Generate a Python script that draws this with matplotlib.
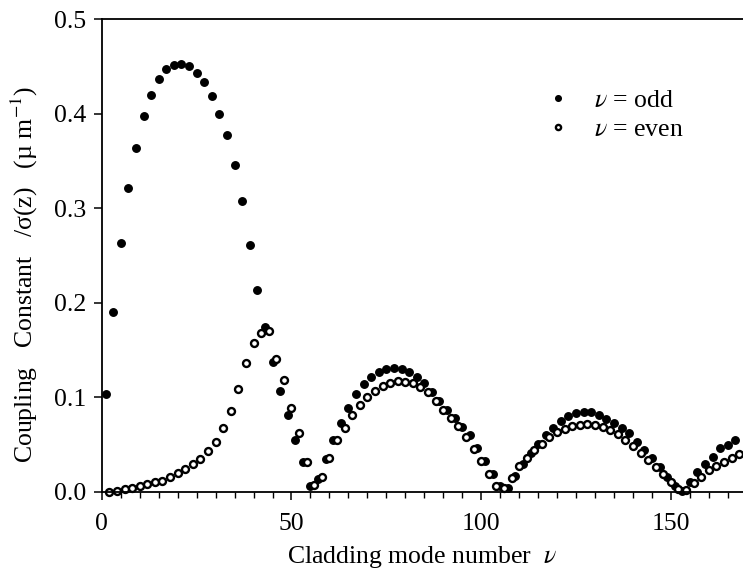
import numpy as np
import matplotlib
matplotlib.use('Agg')
import matplotlib.pyplot as plt
from matplotlib.ticker import MultipleLocator

plt.rcParams['font.family'] = ['Liberation Serif', 'DejaVu Serif']
plt.rcParams['mathtext.fontset'] = 'stix'

# coupling constant for odd cladding modes (nu = 1, 3, ..., 167)
nu_odd = np.arange(1, 168, 2)
k_odd = [0.103, 0.190, 0.263, 0.321, 0.364, 0.397, 0.420, 0.437, 0.447, 0.451,
         0.453, 0.450, 0.443, 0.433, 0.419, 0.400, 0.377, 0.346, 0.308, 0.261,
         0.214, 0.174, 0.137, 0.107, 0.081, 0.055, 0.032, 0.006, 0.014, 0.035,
         0.055, 0.073, 0.089, 0.103, 0.114, 0.121, 0.127, 0.130, 0.131, 0.130,
         0.127, 0.122, 0.115, 0.106, 0.096, 0.087, 0.078, 0.069, 0.060, 0.046,
         0.033, 0.019, 0.006, 0.004, 0.017, 0.030, 0.041, 0.051, 0.060, 0.068,
         0.075, 0.080, 0.083, 0.0845, 0.084, 0.081, 0.0775, 0.073, 0.068, 0.062,
         0.053, 0.044, 0.036, 0.026, 0.016, 0.006, 0.001, 0.010, 0.021, 0.029,
         0.037, 0.046, 0.050, 0.055]

# coupling constant for even cladding modes (nu = 2, 4, ..., 168)
nu_even = np.arange(2, 169, 2)
k_even = [0.000, 0.001, 0.003, 0.004, 0.006, 0.008, 0.010, 0.012, 0.016, 0.020,
          0.024, 0.029, 0.035, 0.043, 0.053, 0.068, 0.086, 0.109, 0.136, 0.157,
          0.168, 0.170, 0.140, 0.118, 0.089, 0.062, 0.032, 0.007, 0.016, 0.036,
          0.055, 0.068, 0.081, 0.092, 0.100, 0.107, 0.112, 0.115, 0.117, 0.116,
          0.115, 0.111, 0.106, 0.096, 0.087, 0.078, 0.070, 0.058, 0.045, 0.033,
          0.019, 0.006, 0.004, 0.015, 0.027, 0.036, 0.044, 0.051, 0.058, 0.063,
          0.067, 0.0695, 0.0705, 0.072, 0.071, 0.0685, 0.065, 0.061, 0.055, 0.048,
          0.041, 0.034, 0.026, 0.019, 0.010, 0.003, 0.002, 0.009, 0.016, 0.023,
          0.027, 0.032, 0.036, 0.040]

fig = plt.figure(figsize=(7.43, 5.78), dpi=100)
ax = fig.add_axes([0.137, 0.149, 0.863, 0.818])

ax.plot(nu_odd, k_odd, 'o', color='black', ms=5.4, label=r'$\nu$ = odd', clip_on=False)
ax.plot(nu_even, k_even, 'o', mfc='white', mec='black', mew=1.7, ms=5.0,
        label=r'$\nu$ = even', clip_on=False)

ax.set_xlim(0, 169)
ax.set_ylim(0, 0.5)
ax.xaxis.set_major_locator(MultipleLocator(50))
ax.xaxis.set_minor_locator(MultipleLocator(5))
ax.yaxis.set_major_locator(MultipleLocator(0.1))
ax.yaxis.set_major_formatter(matplotlib.ticker.FormatStrFormatter('%.1f'))

ax.spines['right'].set_visible(False)
for s in ['left', 'bottom', 'top']:
    ax.spines[s].set_linewidth(1.3)

ax.tick_params(axis='both', which='major', direction='out', length=6, width=1.1,
               labelsize=18.5, pad=5)
ax.tick_params(axis='x', which='major', pad=9)
ax.tick_params(axis='x', which='minor', direction='out', length=4, width=1.0)
ax.tick_params(top=False, right=False)

ax.set_xlabel(r'Cladding mode number  $\nu$', fontsize=18.5, labelpad=7)
ax.set_ylabel(r'Coupling   Constant   /σ(z)   (µ m$^{-1}$)', fontsize=18.5,
              labelpad=10, y=0.46)

ax.legend(loc='upper left', bbox_to_anchor=(0.655, 0.9), frameon=False,
          fontsize=18.5, markerscale=0.75, handletextpad=0.9, labelspacing=0.2,
          handlelength=1.0)

fig.savefig('out.png', dpi=100)
